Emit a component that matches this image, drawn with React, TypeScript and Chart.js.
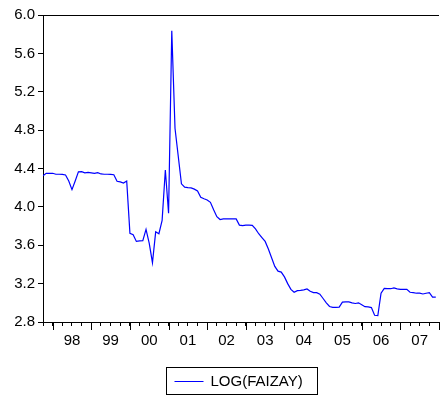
import React, { useEffect, useRef } from "react";
import { Chart, registerables } from "chart.js";

Chart.register(...registerables);

// Monthly observations starting October 1997
const START_YEAR = 1997;
const START_MONTH = 10; // October
const SERIES_LABEL = "LOG(FAIZAY)";
const values: number[] = [
  4.325, 4.35, 4.35, 4.35, 4.34, 4.34, 4.338, 4.333, 4.27, 4.18,
  4.27, 4.365, 4.367, 4.355, 4.36, 4.355, 4.35, 4.357, 4.343, 4.34,
  4.34, 4.338, 4.335, 4.267, 4.26, 4.248, 4.27, 3.725, 3.71, 3.64,
  3.645, 3.648, 3.766, 3.62, 3.418, 3.74, 3.72, 3.86, 4.384, 3.933,
  5.836, 4.82, 4.53, 4.24, 4.205, 4.2, 4.198, 4.185, 4.165, 4.1,
  4.085, 4.072, 4.048, 3.97, 3.898, 3.868, 3.874, 3.874, 3.874, 3.874,
  3.874, 3.81, 3.805, 3.81, 3.81, 3.808, 3.77, 3.72, 3.68, 3.64,
  3.56, 3.47, 3.38, 3.33, 3.32, 3.27, 3.2, 3.14, 3.11, 3.127,
  3.13, 3.135, 3.145, 3.12, 3.106, 3.106, 3.09, 3.045, 3.0, 2.962,
  2.953, 2.953, 2.955, 3.007, 3.009, 3.009, 3.0, 2.993, 3.0, 2.98,
  2.96, 2.957, 2.95, 2.87, 2.866, 3.1, 3.15, 3.147, 3.147, 3.155,
  3.145, 3.141, 3.141, 3.141, 3.11, 3.106, 3.1, 3.1, 3.092, 3.1,
  3.106, 3.06, 3.06,
];
const yearLabels: string[] = ["98", "99", "00", "01", "02", "03", "04", "05", "06", "07"];
const FIRST_LABEL_YEAR = 1998;
const Y_MIN = 2.8;
const Y_MAX = 6.0;
const Y_STEP = 0.4;
const X_MIN = 1997.75;
const X_MAX = 2008.0;

const FONT = "Liberation Sans, Arial, Helvetica, sans-serif";

const framePlugin = {
  id: "eviewsFrame",
  afterDraw(chart: any) {
    const { ctx, chartArea } = chart;
    const xs = chart.scales.x;
    ctx.save();
    ctx.strokeStyle = "#000";
    ctx.lineWidth = 1;
    // top frame line
    ctx.beginPath();
    ctx.moveTo(chartArea.left, Math.round(chartArea.top) + 0.5);
    ctx.lineTo(chartArea.right, Math.round(chartArea.top) + 0.5);
    ctx.stroke();
    // long year ticks
    for (let yr = Math.ceil(X_MIN); yr <= Math.floor(X_MAX); yr++) {
      const px = Math.round(xs.getPixelForValue(yr)) + 0.5;
      ctx.beginPath();
      ctx.moveTo(px, chartArea.bottom);
      ctx.lineTo(px, chartArea.bottom + 8);
      ctx.stroke();
    }
    // legend box
    const label = chart.data.datasets[0].label;
    ctx.font = `15px ${FONT}`;
    const tw = ctx.measureText(label).width;
    const padL = 8, sample = 29, gap = 7, padR = 15;
    const total = padL + sample + gap + tw + padR;
    const cx = (chartArea.left + chartArea.right) / 2 + 1;
    const bx = Math.round(cx - total / 2) + 0.5;
    const by = 367.5;
    const bh = 27;
    ctx.strokeStyle = "#000";
    ctx.strokeRect(bx, by, Math.round(total), bh);
    const midY = by + bh / 2;
    ctx.strokeStyle = chart.data.datasets[0].borderColor;
    ctx.beginPath();
    ctx.moveTo(bx + padL, Math.round(midY) + 0.5);
    ctx.lineTo(bx + padL + sample, Math.round(midY) + 0.5);
    ctx.stroke();
    ctx.fillStyle = "#000";
    ctx.textBaseline = "middle";
    ctx.textAlign = "left";
    ctx.fillText(label, bx + padL + sample + gap, midY + 1);
    ctx.restore();
  },
};

export default function App() {
  const ref = useRef<HTMLCanvasElement | null>(null);
  useEffect(() => {
    document.body.style.margin = "0";
    const pts = values.map((v, i) => ({
      x: START_YEAR + (START_MONTH - 1 + i) / 12,
      y: v,
    }));
    const chart = new Chart(ref.current as HTMLCanvasElement, {
      type: "line",
      data: {
        datasets: [
          {
            label: SERIES_LABEL,
            data: pts,
            borderColor: "#0000FF",
            borderWidth: 1.2,
            pointRadius: 0,
            tension: 0,
            fill: false,
          },
        ],
      },
      options: {
        animation: false,
        responsive: false,
        devicePixelRatio: 1,
        layout: { padding: { top: 15, left: 0, right: 0, bottom: 0 } },
        plugins: {
          legend: { display: false },
          tooltip: { enabled: false },
        },
        scales: {
          x: {
            type: "linear",
            min: X_MIN,
            max: X_MAX,
            afterBuildTicks: (scale: any) => {
              const t = [];
              for (let v = X_MIN; v <= X_MAX + 1e-9; v += 0.25) t.push({ value: v });
              scale.ticks = t;
            },
            afterFit: (scale: any) => {
              scale.height = 74;
            },
            ticks: {
              autoSkip: false,
              maxRotation: 0,
              padding: 6,
              color: "#000",
              font: { family: FONT, size: 15 },
              callback: (value: any) => {
                const v = Number(value);
                const frac = v - Math.floor(v);
                if (Math.abs(frac - 0.5) < 1e-6) {
                  const idx = Math.floor(v) - FIRST_LABEL_YEAR;
                  return yearLabels[idx] ?? "";
                }
                return "";
              },
            },
            grid: {
              drawOnChartArea: false,
              tickLength: 4,
              tickColor: "#000",
              drawTicks: true,
            },
            border: { display: true, color: "#000", width: 1 },
          },
          y: {
            min: Y_MIN,
            max: Y_MAX,
            afterFit: (scale: any) => {
              scale.width = 43;
            },
            ticks: {
              stepSize: Y_STEP,
              padding: 3,
              color: "#000",
              font: { family: FONT, size: 15 },
              callback: (value: any) => Number(value).toFixed(1),
            },
            grid: {
              drawOnChartArea: false,
              tickLength: 5,
              tickColor: "#000",
            },
            border: { display: true, color: "#000", width: 1 },
          },
        },
      },
      plugins: [framePlugin],
    });
    return () => chart.destroy();
  }, []);
  return (
    <div style={{ width: 445, height: 396 }}>
      <canvas ref={ref} width={445} height={396} style={{ display: "block" }} />
    </div>
  );
}
